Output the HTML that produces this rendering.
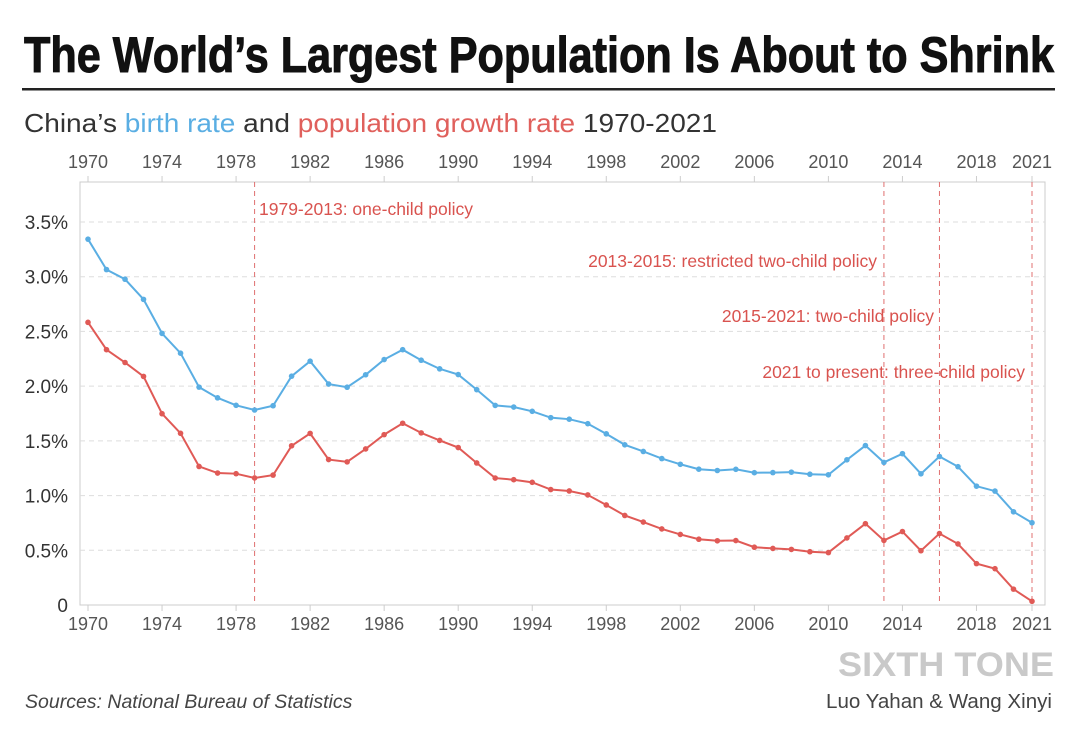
<!DOCTYPE html>
<html><head><meta charset="utf-8"><style>
html,body{margin:0;padding:0;background:#fff;width:1080px;height:743px;overflow:hidden}
svg text{font-family:"Liberation Sans",sans-serif}
</style></head><body>
<svg id="c" width="1080" height="743" xmlns="http://www.w3.org/2000/svg">
<text x="24" y="72" font-size="50" font-weight="bold" fill="#111" stroke="#111" stroke-width="1" textLength="1030" lengthAdjust="spacingAndGlyphs">The World’s Largest Population Is About to Shrink</text>
<rect x="22" y="88" width="1033" height="2.5" fill="#222"/>
<text x="24" y="132" font-size="26" fill="#333" textLength="693" lengthAdjust="spacingAndGlyphs">China’s <tspan fill="#5aaee3">birth rate</tspan> and <tspan fill="#e0605c">population growth rate</tspan> 1970-2021</text>
<g id="plot"></g>
<text x="838" y="676" font-size="34" font-weight="bold" fill="#c9c9c9" textLength="216" lengthAdjust="spacingAndGlyphs">SIXTH TONE</text>
<text x="25" y="708" font-size="19.5" font-style="italic" fill="#444">Sources: National Bureau of Statistics</text>
<text x="1052" y="708" font-size="20" fill="#444" text-anchor="end" textLength="226" lengthAdjust="spacingAndGlyphs">Luo Yahan &amp; Wang Xinyi</text>
</svg>
<script>
const years=[];for(let y=1970;y<=2021;y++)years.push(y);
const birthRate=[3.343,3.065,2.977,2.793,2.482,2.301,1.991,1.893,1.825,1.782,1.821,2.091,2.228,2.019,1.990,2.104,2.243,2.333,2.237,2.158,2.106,1.968,1.824,1.809,1.770,1.712,1.698,1.657,1.564,1.464,1.403,1.338,1.286,1.241,1.229,1.240,1.209,1.210,1.214,1.195,1.190,1.327,1.457,1.303,1.383,1.199,1.357,1.264,1.086,1.041,0.852,0.752];
const growthRate=[2.583,2.333,2.216,2.089,1.748,1.569,1.266,1.206,1.200,1.161,1.187,1.455,1.568,1.329,1.308,1.426,1.557,1.661,1.573,1.504,1.439,1.298,1.160,1.145,1.121,1.055,1.042,1.006,0.914,0.818,0.758,0.695,0.645,0.601,0.587,0.589,0.528,0.517,0.508,0.487,0.479,0.613,0.743,0.590,0.671,0.496,0.653,0.558,0.378,0.332,0.145,0.034];
const xTicks=[1970,1974,1978,1982,1986,1990,1994,1998,2002,2006,2010,2014,2018,2021];
const yTicks=[0,0.5,1,1.5,2,2.5,3,3.5];
const yTickLabels=["0","0.5%","1.0%","1.5%","2.0%","2.5%","3.0%","3.5%"];
const policyYears=[1979,2013,2016,2021];
const policyLabels=["1979-2013: one-child policy","2013-2015: restricted two-child policy","2015-2021: two-child policy","2021 to present: three-child policy"];
const NS="http://www.w3.org/2000/svg";
const X=y=>88+(y-1970)*(1032-88)/51;
const Y=v=>605-v*(605-222)/3.5;
const g=document.getElementById('plot');
function mk(t,a,txt){const e=document.createElementNS(NS,t);for(const k in a)e.setAttribute(k,a[k]);if(txt!=null)e.textContent=txt;g.appendChild(e);return e;}
let e=mk('rect',{x:80,y:182,width:965,height:423,fill:'none',stroke:'#ccc','stroke-width':1});


yTicks.forEach((v,i)=>{
 if(v>0){e=mk('line',{x1:80,x2:1045,y1:Y(v),y2:Y(v),stroke:'#ddd','stroke-dasharray':'5,4'});
 
 }
 e=mk('text',{x:68,y:Y(v)+7,'font-size':19,fill:'#333','text-anchor':'end'},yTickLabels[i]);
 
 
});
xTicks.forEach(t=>{
 [[182,176,168],[605,611,630]].forEach(([a,b,ty])=>{
  e=mk('line',{x1:X(t),x2:X(t),y1:a,y2:b,stroke:'#ccc'});
  
  
  e=mk('text',{x:X(t),y:ty,'font-size':18,fill:'#555','text-anchor':'middle'},String(t));
  
  
 });
});
policyYears.forEach((p,i)=>{
 e=mk('line',{x1:X(p),x2:X(p),y1:182,y2:605,stroke:'#e07070','stroke-dasharray':'5,4','stroke-width':1});
 
 
});
const lblPos=[[259,215,'start'],[877,267,'end'],[934,322,'end'],[1025,378,'end']];
policyLabels.forEach((l,i)=>{
 e=mk('text',{x:lblPos[i][0],y:lblPos[i][1],'font-size':17.5,fill:'#d9534f','text-anchor':lblPos[i][2]},l);
 
 
});
[[birthRate,'#5aaee3','birth-rate'],[growthRate,'#e05a56','growth-rate']].forEach(([d,c,n])=>{
 e=mk('polyline',{points:d.map((v,i)=>X(years[i])+','+Y(v)).join(' '),fill:'none',stroke:c,'stroke-width':2});
 
 
 d.forEach((v,i)=>{e=mk('circle',{cx:X(years[i]),cy:Y(v),r:2.8,fill:c});
  
  });
});
</script>
</body></html>
